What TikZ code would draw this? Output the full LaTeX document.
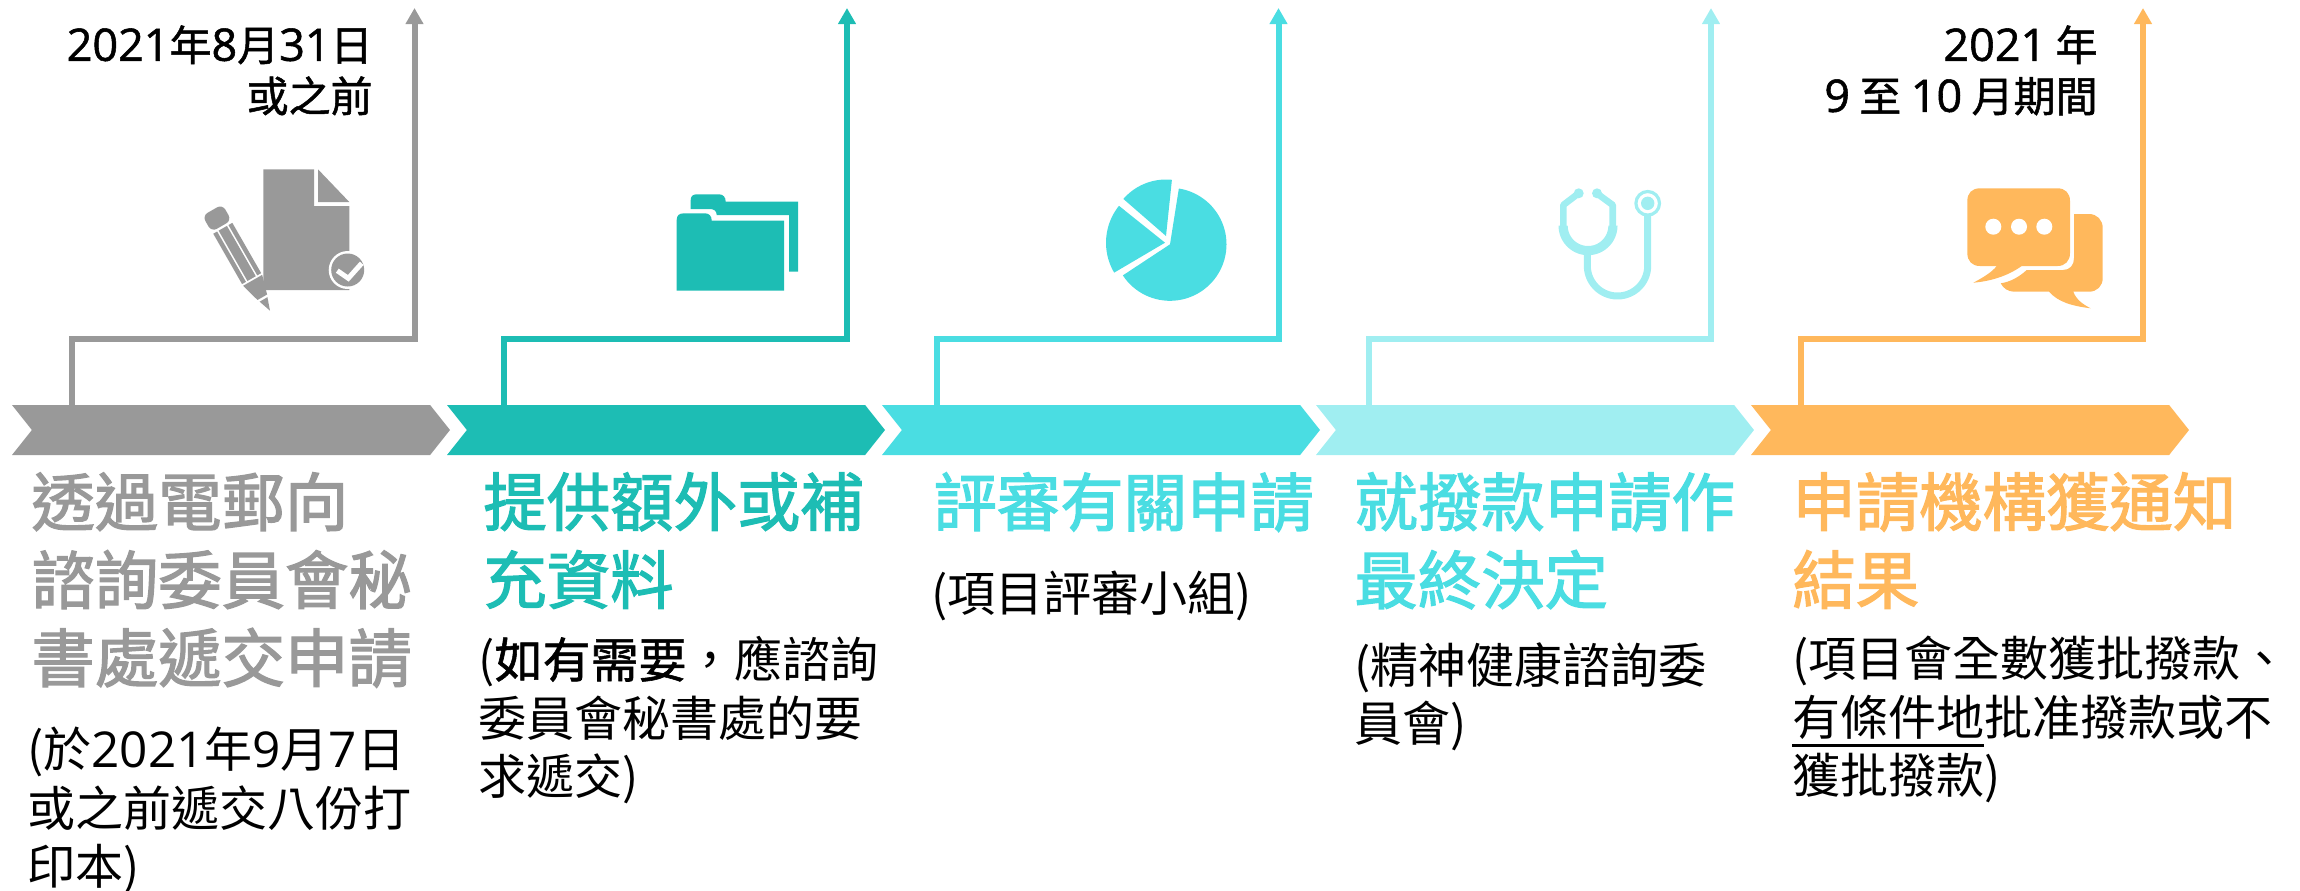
\documentclass[tikz,border=0pt]{standalone}
\usepackage{fontspec}
\setmainfont{Noto Sans CJK TC}
\newfontfamily\headfont[FakeBold=2]{Noto Sans CJK TC}
\newfontfamily\datefont[FakeBold=1.2]{Noto Sans CJK TC}
\newfontfamily\digitfont[Scale=1.03]{Open Sans}
\newfontfamily\datedigit[Scale=1.07,FakeBold=1.2]{Open Sans}
\usetikzlibrary{shapes.symbols,arrows.meta}
\definecolor{cgrey}{HTML}{999999}
\definecolor{cteal}{HTML}{1DBDB4}
\definecolor{ccyan}{HTML}{4ADDE2}
\definecolor{clight}{HTML}{A0EEF1}
\definecolor{corange}{HTML}{FFB85C}
\tikzset{
  chev/.style={shape=signal,signal from=west,signal to=east,signal pointer angle=103,
    minimum width=219pt,minimum height=25pt,inner sep=0pt,outer sep=0pt,fill=#1,draw=none},
  conn/.style={draw=#1,line width=3pt,-{Triangle[length=8pt,width=8.5pt,fill=#1]}},
  head/.style={text=#1,anchor=north west,align=left,inner sep=0pt,font=\fontsize{31.7}{39}\headfont},
  sub/.style={text=black,anchor=north west,align=left,inner sep=0pt,font=\fontsize{24}{29.2}\selectfont},
  date/.style={text=black,anchor=north east,align=right,inner sep=0pt,font=\fontsize{21}{25.5}\datefont},
}
\begin{document}
\begin{tikzpicture}[x=0.5pt,y=-0.5pt]
\useasboundingbox (0,0) rectangle (2300,890);
% bars
\node[chev=cgrey]   (c1) at (231,430) {};
\node[chev=cteal]   (c2) at (666,430) {};
\node[chev=ccyan]   (c3) at (1101,430) {};
\node[chev=clight]  (c4) at (1535,430) {};
\node[chev=corange] (c5) at (1970,430) {};
% connector guide points
\coordinate (b1) at (72,339);   \coordinate (e1) at (414.5,339);  \coordinate (t1) at (414.5,8);
\coordinate (b2) at (504,339);  \coordinate (e2) at (847,339);    \coordinate (t2) at (847,8);
\coordinate (b3) at (936.5,339);\coordinate (e3) at (1278.5,339); \coordinate (t3) at (1278.5,8);
\coordinate (b4) at (1369,339); \coordinate (e4) at (1711,339);   \coordinate (t4) at (1711,8);
\coordinate (b5) at (1801,339); \coordinate (e5) at (2143,339);   \coordinate (t5) at (2143,8);
\draw[conn=cgrey]   (b1 |- c1.north) -- (b1) -- (e1) -- (t1);
\draw[conn=cteal]   (b2 |- c2.north) -- (b2) -- (e2) -- (t2);
\draw[conn=ccyan]   (b3 |- c3.north) -- (b3) -- (e3) -- (t3);
\draw[conn=clight]  (b4 |- c4.north) -- (b4) -- (e4) -- (t4);
\draw[conn=corange] (b5 |- c5.north) -- (b5) -- (e5) -- (t5);
% dates
\node[date] (d1) at (373,25) {{\datedigit 2021}年{\datedigit 8}月{\datedigit 31}日\\或之前};
\node[date] (d5) at (2098,25) {{\datedigit 2021} 年\\{\datedigit 9} 至 {\datedigit 10} 月期間};
% headings
\node[head=cgrey]   (h1) at (31,472) {透過電郵向\\諮詢委員會秘\\書處遞交申請};
\node[head=cteal]   (h2) at (483,472) {提供額外或補\\充資料};
\node[head=ccyan]   (h3) at (933,472) {評審有關申請};
\node[head=ccyan]   (h4) at (1354,472) {就撥款申請作\\最終決定};
\node[head=corange] (h5) at (1792,472) {申請機構獲通知\\結果};
% sub text
\node[sub] (s1) at (27,727) {(於{\digitfont 2021}年{\digitfont 9}月{\digitfont 7}日\\或之前遞交八份打\\印本)};
\node[sub] (s2) at (478,636) {({\datefont 如有需要}，應諮詢\\委員會秘書處的要\\求遞交)};
\node[sub] (s3) at (931,571) {(項目評審小組)};
\node[sub] (s4) at (1354,642) {(精神健康諮詢委\\員會)};
\node[sub] (s5) at (1792,636) {(項目會全數獲批撥款、\\有條件地批准撥款或不\\獲批撥款)};
\draw[black,line width=1.5pt] (1792,745.5) -- (1984,745.5);
% document icon
\fill[cgrey] (263.3,169.3) -- (314,169.3) -- (314,206) -- (349.3,206) -- (349.3,290) -- (263.3,290) -- cycle;
\fill[cgrey] (318,169.3) -- (349.3,202) -- (318,202) -- cycle;
\fill[white] (347.7,270) circle[radius=19];
\fill[cgrey] (347.7,270) circle[radius=16.5];
\draw[white,line width=2.5pt] (337.3,270.7) -- (348.3,278.3) -- (361.7,263.3);
% pencil
\begin{scope}[shift={(270,310.7)},rotate=119.8]
  \fill[cgrey] (0,0) -- (13,-4.5) -- (13,4.5) -- cycle;
  \fill[cgrey] (15.5,-5.5) -- (15.5,5.5) -- (35,11) -- (35,-11) -- cycle;
  \fill[cgrey] (37,-11) rectangle (95,-6.5);
  \fill[cgrey] (37,-4.8) rectangle (95,4.8);
  \fill[cgrey] (37,6.5) rectangle (95,11);
  \fill[cgrey,rounded corners=3pt] (97.5,-11.5) rectangle (116,11.5);
\end{scope}
% folder icon
\fill[cteal] (690.7,209) -- (690.7,200) .. controls (690.7,196) and (693,194.3) .. (697,194.3)
  -- (719,194.3) .. controls (723,194.3) and (725.7,197) .. (725.7,201.7)
  -- (798,201.7) -- (798,271.7) -- (789,271.7) -- (789,215) -- (716.7,215)
  .. controls (716.7,211) and (714,209) .. (710,209) -- cycle;
\fill[cteal] (676.7,290.7) -- (676.7,220) .. controls (676.7,215.5) and (679,213.3) .. (684,213.3)
  -- (705,213.3) .. controls (709,213.3) and (711.7,216) .. (711.7,220.5)
  -- (784,220.5) -- (784,290.7) -- cycle;
% pie icon
\fill[ccyan] (1170,244.3) -- plot[domain=-81:146.6,samples=60] ({1170+56.5*cos(\x)},{244.3+56.5*sin(\x)}) -- cycle;
\fill[ccyan] (1166,236) -- plot[domain=-139:-84,samples=30] ({1166+56.5*cos(\x)},{236+56.5*sin(\x)}) -- cycle;
\fill[ccyan] (1165,242.7) -- plot[domain=149.5:218.7,samples=30] ({1165+59*cos(\x)},{242.7+59*sin(\x)}) -- cycle;
% stethoscope icon
\draw[clight,line width=1.6pt] (1647.7,203.3) circle[radius=11.8];
\fill[clight] (1647.7,203.3) circle[radius=6.7];
\draw[clight,line width=3.5pt] (1647.7,214) -- (1647.7,265.8)
  -- plot[domain=0:180,samples=40] ({1617.5+30.2*cos(\x)},{265.8+30.2*sin(\x)}) -- (1587.3,250);
\fill[clight] plot[domain=0:180,samples=40] ({1588+29.5*cos(\x)},{225.7+29.5*sin(\x)})
  -- plot[domain=180:0,samples=40] ({1588+20.3*cos(\x)},{225.7+20.3*sin(\x)}) -- cycle;
\draw[clight,line width=3.3pt,line join=round] (1563.3,228) -- (1563.3,205) -- (1578.3,193.5);
\draw[clight,line width=3.3pt,line join=round] (1612.7,228) -- (1612.7,205) -- (1597,193.5);
\fill[clight] (1578.7,193.3) circle[radius=5];
\fill[clight] (1597,193.3) circle[radius=5];
% speech icon
\fill[corange] (2074,214) -- (2089,214) .. controls (2097,214) and (2102.7,220) .. (2102.7,228)
  -- (2102.7,278) .. controls (2102.7,286) and (2097,291.7) .. (2089,291.7)
  -- (2073.3,291.7) .. controls (2076,299) and (2082,304) .. (2090.7,308.3)
  .. controls (2072,306) and (2058,302) .. (2049,291.7)
  -- (2014,291.7) .. controls (2008,291.7) and (2003,288) .. (2000.7,283.3)
  .. controls (2010,282) and (2019,277) .. (2026.7,270)
  -- (2063,270) .. controls (2070,270) and (2074,265) .. (2074,258) -- cycle;
\fill[corange] (1980,188.3) -- (2057.5,188.3) .. controls (2065,188.3) and (2070,193) .. (2070,201)
  -- (2070,253) .. controls (2070,261) and (2065,266) .. (2057.5,266)
  -- (2021.7,266) .. controls (2009,275) and (1993,281) .. (1973.3,282.7)
  .. controls (1984,277) and (1992,272) .. (1996.7,266)
  -- (1980,266) .. controls (1972,266) and (1967.3,261) .. (1967.3,253)
  -- (1967.3,201) .. controls (1967.3,193) and (1972,188.3) .. (1980,188.3) -- cycle;
\fill[white] (1993.3,226.7) circle[radius=8];
\fill[white] (2019,226.7) circle[radius=8];
\fill[white] (2044.3,226.7) circle[radius=8];
\end{tikzpicture}
\end{document}
